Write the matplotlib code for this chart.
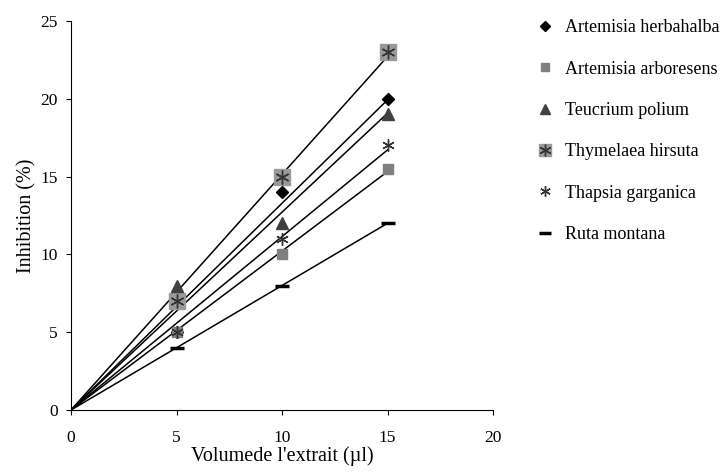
import matplotlib
matplotlib.use("Agg")
import matplotlib.pyplot as plt
import numpy as np
from matplotlib.legend_handler import HandlerTuple

plt.rcParams['font.family'] = ['Liberation Serif', 'DejaVu Serif']

volumes = [5, 10, 15]
series_names = ["Artemisia herbahalba", "Artemisia arboresens", "Teucrium polium",
                "Thymelaea hirsuta", "Thapsia garganica", "Ruta montana"]
herbahalba = [5, 14, 20]
arboresens = [5, 10, 15.5]
teucrium = [8, 12, 19]
thymelaea = [7, 15, 23]
thapsia = [5, 11, 17]
ruta = [4, 8, 12]
xticks = [0, 5, 10, 15, 20]
yticks = [0, 5, 10, 15, 20, 25]

fig = plt.figure(figsize=(7.28, 4.76), dpi=100)
ax = fig.add_axes([71/728, 1-410/476, 422/728, 389/476])

x = np.array(volumes, dtype=float)
allser = [herbahalba, arboresens, teucrium, thymelaea, thapsia, ruta]
# regression lines through origin
for s in allser:
    y = np.array(s, dtype=float)
    k = (x*y).sum() / (x*x).sum()
    ax.plot([0, 15], [0, 15*k], color='black', lw=1.1, zorder=2)

asterisk = (6, 2, 0)
h1, = ax.plot(x, herbahalba, ls='none', marker='D', ms=6.5, mfc='black', mec='black', zorder=4)
h2, = ax.plot(x, arboresens, ls='none', marker='s', ms=7, mfc='#7f7f7f', mec='#7f7f7f', zorder=4)
h3, = ax.plot(x, teucrium, ls='none', marker='^', ms=8, mfc='#404040', mec='#404040', zorder=4)
h4a, = ax.plot(x, thymelaea, ls='none', marker='s', ms=11, mfc='#999999', mec='#999999', zorder=3)
h4b, = ax.plot(x, thymelaea, ls='none', marker=asterisk, ms=10, mfc='#333333', mec='#333333', mew=1.0, zorder=4)
h5, = ax.plot(x, thapsia, ls='none', marker=asterisk, ms=9, mfc='#333333', mec='#333333', mew=1.0, zorder=4)
h6, = ax.plot(x, ruta, ls='none', marker='_', ms=10, mew=2.5, mec='black', zorder=4)

ax.set_xlim(0, 20)
ax.set_ylim(0, 25)
ax.set_xticks(xticks)
ax.set_yticks(yticks)
for sp in ['top', 'right']:
    ax.spines[sp].set_visible(False)
ax.tick_params(direction='out', length=3.5, labelsize=12.5)
ax.tick_params(axis='x', pad=11)
ax.tick_params(axis='y', pad=6)
ax.set_xlabel("Volumede l'extrait (\u00b5l)", fontsize=14.5, labelpad=0)
ax.set_ylabel("Inhibition (%)", fontsize=14.5, labelpad=3)

leg = fig.legend([h1, h2, h3, (h4a, h4b), h5, h6], series_names,
                 loc='upper left', bbox_to_anchor=(518/728, 1-3/476),
                 frameon=False, fontsize=13, labelspacing=1.35,
                 handlelength=1.2, handletextpad=0.5, markerscale=0.85,
                 handler_map={tuple: HandlerTuple(ndivide=1)})

fig.savefig("out.png", dpi=100)
